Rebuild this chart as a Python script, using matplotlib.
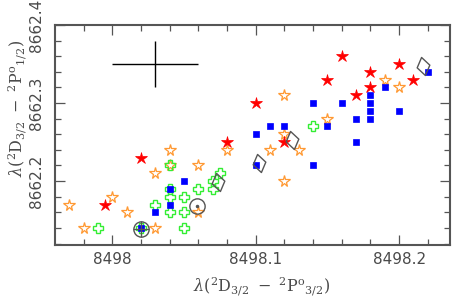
import numpy as np
import matplotlib
matplotlib.use("Agg")
import matplotlib.pyplot as plt
from matplotlib.path import Path
from matplotlib.transforms import Affine2D

# filled red stars
red_x = [8497.995, 8498.02, 8498.08, 8498.12, 8498.10, 8498.15, 8498.16, 8498.17,
         8498.18, 8498.18, 8498.20, 8498.21]
red_y = [8662.17, 8662.23, 8662.25, 8662.25, 8662.30, 8662.33, 8662.36, 8662.31,
         8662.34, 8662.32, 8662.35, 8662.33]

# open orange stars
orange_x = [8497.97, 8497.98, 8498.00, 8498.01, 8498.03, 8498.03, 8498.04, 8498.04,
            8498.06, 8498.06, 8498.08, 8498.12, 8498.15, 8498.19, 8498.20, 8498.12,
            8498.11, 8498.13, 8498.12]
orange_y = [8662.17, 8662.14, 8662.18, 8662.16, 8662.14, 8662.21, 8662.24, 8662.22,
            8662.22, 8662.16, 8662.24, 8662.31, 8662.28, 8662.33, 8662.32, 8662.26,
            8662.24, 8662.24, 8662.20]

# open green crosses
green_x = [8497.99, 8498.02, 8498.03, 8498.04, 8498.04, 8498.04, 8498.04, 8498.05,
           8498.05, 8498.05, 8498.06, 8498.07, 8498.07, 8498.075, 8498.14]
green_y = [8662.14, 8662.14, 8662.17, 8662.22, 8662.19, 8662.18, 8662.16, 8662.18,
           8662.16, 8662.14, 8662.19, 8662.20, 8662.19, 8662.21, 8662.27]

# blue squares
blue_x = [8498.02, 8498.03, 8498.04, 8498.04, 8498.05, 8498.10, 8498.11, 8498.12,
          8498.15, 8498.10, 8498.14, 8498.17, 8498.17, 8498.18, 8498.14, 8498.16,
          8498.18, 8498.18, 8498.18, 8498.19, 8498.20, 8498.22]
blue_y = [8662.14, 8662.16, 8662.19, 8662.17, 8662.20, 8662.26, 8662.27, 8662.27,
          8662.27, 8662.22, 8662.22, 8662.25, 8662.28, 8662.28, 8662.30, 8662.30,
          8662.29, 8662.30, 8662.31, 8662.32, 8662.29, 8662.34]

# grey open diamonds
diam_x = [8498.074, 8498.102, 8498.125, 8498.217]
diam_y = [8662.199, 8662.223, 8662.253, 8662.347]

# sun and earth symbols
sun_x, sun_y = 8498.059, 8662.168
earth_x, earth_y = 8498.02, 8662.138

# typical error bar
err_x, err_y = 8498.03, 8662.35
err_dx, err_dy = 0.03, 0.03

x_major = [8498.0, 8498.1, 8498.2]
x_labels = ["8498", "8498.1", "8498.2"]
y_major = [8662.2, 8662.3, 8662.4]
y_labels = ["8662.2", "8662.3", "8662.4"]

grey = "#555555"
txt = "#4a4a4a"

plt.rcParams["mathtext.fontset"] = "dejavuserif"

fig = plt.figure(figsize=(4.58, 3.0), dpi=100)
ax = fig.add_axes([0.120, 0.183, 0.8625, 0.7337])

ax.plot(orange_x, orange_y, ls="none", marker="*", ms=8.5, mfc="none",
        mec="#ff9933", mew=0.9, zorder=2)
ax.plot(green_x, green_y, ls="none", marker="P", ms=7.5, mfc="none",
        mec="#33ee33", mew=1.0, zorder=3)
ax.plot(blue_x, blue_y, ls="none", marker="s", ms=4.5, mfc="#0000ff",
        mec="#0000ff", mew=0.5, zorder=4)
ax.plot(red_x, red_y, ls="none", marker="*", ms=9, mfc="#ff0000",
        mec="#ff0000", mew=0.5, zorder=5)

# tilted diamond marker
diamond = Path([(0, 1), (0.7, 0), (0, -1), (-0.7, 0), (0, 1)],
               [Path.MOVETO, Path.LINETO, Path.LINETO, Path.LINETO, Path.CLOSEPOLY])
diamond = Affine2D().rotate_deg(12).transform_path(diamond)
ax.plot(diam_x, diam_y, ls="none", marker=diamond, ms=13, mfc="none",
        mec=grey, mew=1.0, zorder=6)

# sun: circle with dot, earth: circle with cross
ax.plot(sun_x, sun_y, marker="o", ms=11, mfc="none", mec=grey, mew=1.0, zorder=6)
ax.plot(sun_x, sun_y, marker="o", ms=1.5, color=grey, zorder=6)
ax.plot(earth_x, earth_y, marker="o", ms=11, mfc="none", mec=grey, mew=1.0, zorder=6)
ax.plot(earth_x, earth_y, marker="+", ms=11, mec=grey, mew=1.0, zorder=6)

ax.errorbar(err_x, err_y, xerr=err_dx, yerr=err_dy, fmt="none",
            ecolor="black", elinewidth=1.0, capsize=0)

ax.set_xlim(8497.96, 8498.2355)
ax.set_ylim(8662.118, 8662.4)

ax.set_xticks(x_major, labels=x_labels)
ax.set_xticks(np.arange(8497.98, 8498.23, 0.02), minor=True)
ax.set_yticks(y_major, labels=y_labels)
ax.set_yticks(np.arange(8662.12, 8662.41, 0.02), minor=True)

ax.tick_params(which="both", direction="in", top=True, right=True,
               color=grey, width=0.9, labelsize=11, labelcolor=txt)
ax.tick_params(which="major", length=7)
ax.tick_params(which="minor", length=4.5)
ax.tick_params(axis="x", pad=5)
ax.tick_params(axis="y", pad=8)
plt.setp(ax.get_yticklabels(), rotation=90, va="center")

for s in ax.spines.values():
    s.set_color(grey)
    s.set_linewidth(1.5)

ax.set_xlabel(r"$\lambda(^{2}\mathrm{D}_{3/2}\ -\ ^{2}\mathrm{P^{o}}_{3/2})$",
              fontsize=11.5, color=txt)
ax.xaxis.set_label_coords(0.524, -0.135)
ax.set_ylabel(r"$\lambda(^{2}\mathrm{D}_{3/2}\ -\ ^{2}\mathrm{P^{o}}_{1/2})$",
              fontsize=11.5, color=txt)
ax.yaxis.set_label_coords(-0.066, 0.623)

fig.savefig("out.png", dpi=100)
